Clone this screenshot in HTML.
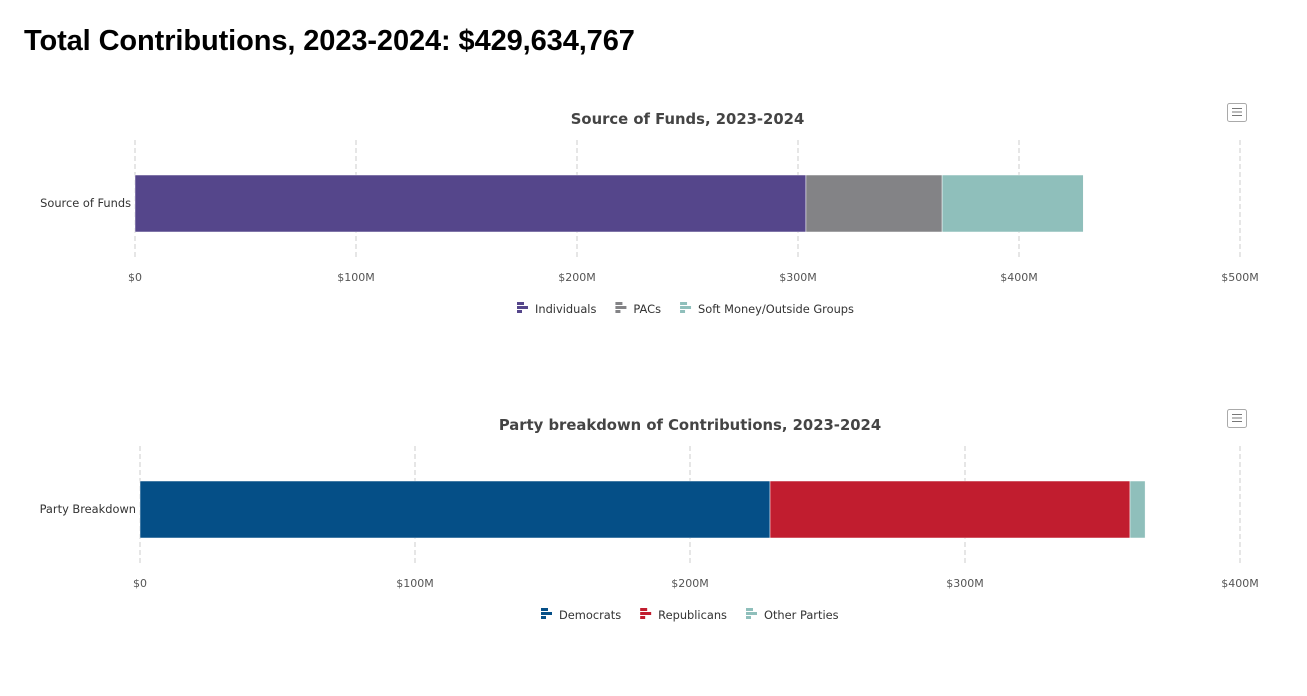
<!DOCTYPE html>
<html><head><meta charset="utf-8"><style>
body{margin:0;background:#fff;width:1307px;height:648px;overflow:hidden;font-family:"DejaVu Sans","Liberation Sans",sans-serif}
h1{position:absolute;left:24px;top:25px;margin:0;font:bold 29px "Liberation Sans",sans-serif;color:#000;letter-spacing:-0.1px}
svg{position:absolute;left:0}
</style></head><body>
<h1>Total Contributions, 2023-2024: $429,634,767</h1>
<svg id="c1" width="1307" height="300" style="top:90px"></svg>
<svg id="c2" width="1307" height="300" style="top:396px"></svg>
<script>
const srcNames=["Individuals","PACs","Soft Money/Outside Groups"];
const srcValues=[303.6,61.6,63.9];
const srcColors=["#55468b","#838386","#8fbfbb"];
const srcTicks=[0,100,200,300,400,500];
const partyNames=["Democrats","Republicans","Other Parties"];
const partyValues=[229.1,130.9,5.5];
const partyColors=["#054f87","#c11d2f","#8fbfbb"];
const partyTicks=[0,100,200,300,400];
const NS="http://www.w3.org/2000/svg";
function mk(p,t,a){const e=document.createElementNS(NS,t);for(const k in a)e.setAttribute(k,a[k]);p.appendChild(e);return e;}
function draw(id,title,cat,x0,names,vals,cols,ticks,legX){
 const s=document.getElementById(id);
 const x1=1240,max=ticks[ticks.length-1];
 const sx=v=>x0+(x1-x0)*v/max;
 let t=mk(s,'text',{x:(x0+x1)/2,y:34,'text-anchor':'middle','font-size':14.8,'font-weight':'bold',fill:'#444'});t.textContent=title;
 
 const m=mk(s,'g',{});
 mk(m,'rect',{x:1227.5,y:13.5,width:19,height:18,rx:2,fill:'#fff',stroke:'#aaa'});
 for(let i=0;i<3;i++)mk(m,'line',{x1:1232,x2:1242,y1:18.5+i*3.5,y2:18.5+i*3.5,stroke:'#777'});
 ticks.forEach(v=>{const g=mk(s,'g',{});
  mk(g,'line',{x1:sx(v),x2:sx(v),y1:50,y2:170,stroke:'#ccc','stroke-dasharray':'5,3'});
  const l=mk(s,'text',{x:sx(v),y:191,'text-anchor':'middle','font-size':11,fill:'#555'});l.textContent=v===0?'$0':'$'+v+'M';
  });
 const cl=mk(s,'text',{x:x0-4,y:117,'text-anchor':'end','font-size':11.4,fill:'#333'});cl.textContent=cat;
 
 let acc=0;
 vals.forEach((v,i)=>{const r=mk(s,'rect',{x:sx(acc),y:85,width:sx(acc+v)-sx(acc),height:57,fill:cols[i],stroke:'#fff','stroke-width':0.5});
  acc+=v;});
 let lx=legX;
 names.forEach((n,i)=>{const g=mk(s,'g',{});
  mk(g,'rect',{x:lx,y:212,width:7,height:3,fill:cols[i]});mk(g,'rect',{x:lx,y:216,width:11,height:3,fill:cols[i]});mk(g,'rect',{x:lx,y:220,width:5,height:3,fill:cols[i]});
  const tt=mk(g,'text',{x:lx+18,y:223,'font-size':11.4,fill:'#333'});tt.textContent=n;
  lx+=18+tt.getComputedTextLength()+19;});
}
draw('c1','Source of Funds, 2023-2024','Source of Funds',135,srcNames,srcValues,srcColors,srcTicks,517);
draw('c2','Party breakdown of Contributions, 2023-2024','Party Breakdown',140,partyNames,partyValues,partyColors,partyTicks,541);
</script>
</body></html>
